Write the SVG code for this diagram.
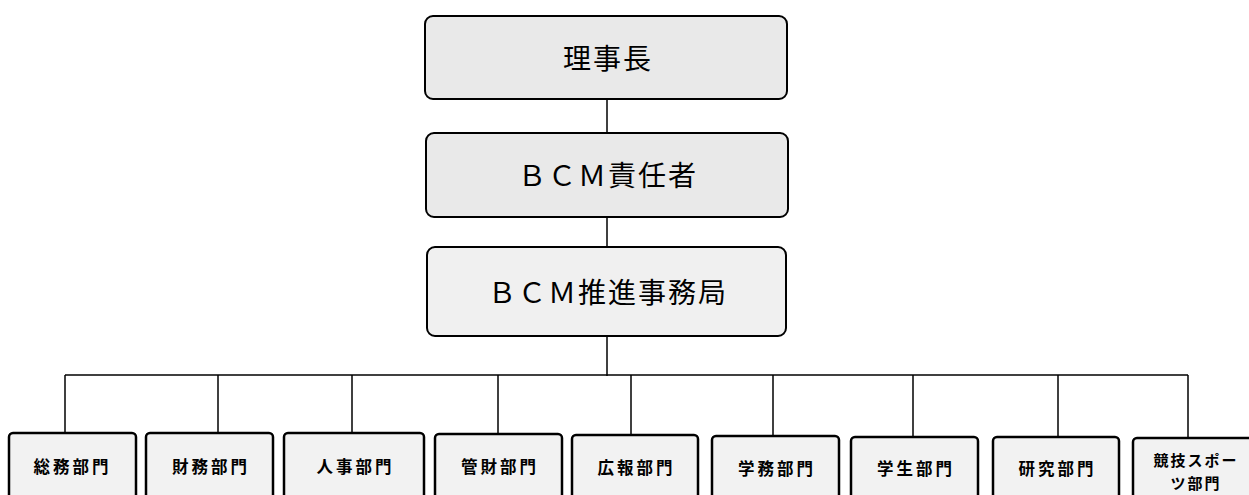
<svg xmlns="http://www.w3.org/2000/svg" width="1249" height="495" viewBox="0 0 1249 495">
<style>
.top{fill:#e9e9e9;stroke:#000;stroke-width:2}
.mid{fill:#f0f0f0;stroke:#000;stroke-width:2}
.dept{fill:#f2f2f2;stroke:#000;stroke-width:2.5}
.big{font-family:"Noto Sans CJK JP","Noto Sans CJK SC",sans-serif;font-size:28px;fill:#000;text-anchor:middle;letter-spacing:2px}
.small{font-family:"Noto Sans CJK JP","Noto Sans CJK SC",sans-serif;font-size:16.5px;font-weight:bold;fill:#000;text-anchor:middle;letter-spacing:3px}
.small2{font-family:"Noto Sans CJK JP","Noto Sans CJK SC",sans-serif;font-size:15px;font-weight:bold;fill:#000;text-anchor:middle;letter-spacing:2px}
.ln{stroke:#000;stroke-width:1.5;fill:none}
</style>
<rect width="1249" height="495" fill="#fff"/>
<g id="connectors">
<line class="ln" x1="607" y1="99" x2="607" y2="133"/>
<line class="ln" x1="607" y1="217" x2="607" y2="247"/>
<line class="ln" x1="607" y1="336" x2="607" y2="376" stroke-width="2"/>
<line class="ln" x1="65" y1="375" x2="1188" y2="375"/>
<line class="ln" x1="65" y1="375" x2="65" y2="433"/>
<line class="ln" x1="218" y1="375" x2="218" y2="433"/>
<line class="ln" x1="352" y1="375" x2="352" y2="433"/>
<line class="ln" x1="498" y1="375" x2="498" y2="434"/>
<line class="ln" x1="631" y1="375" x2="631" y2="435"/>
<line class="ln" x1="773" y1="375" x2="773" y2="436"/>
<line class="ln" x1="913" y1="375" x2="913" y2="437"/>
<line class="ln" x1="1058" y1="375" x2="1058" y2="437"/>
<line class="ln" x1="1188" y1="375" x2="1188" y2="438"/>
</g>
<g id="n-rijicho">
<rect class="top" x="425" y="16" width="362" height="83" rx="8"/>
<text class="big" x="608" y="69">理事長</text>
</g>
<g id="n-bcm-sekinin">
<rect class="top" x="426" y="133" width="362" height="84" rx="8"/>
<text class="big" x="608" y="186">ＢＣＭ責任者</text>
</g>
<g id="n-bcm-jimukyoku">
<rect class="mid" x="427" y="247" width="359" height="89" rx="8"/>
<text class="big" x="608" y="303">ＢＣＭ推進事務局</text>
</g>
<g id="d-somu">
<rect class="dept" x="9" y="433" width="127" height="80" rx="4"/>
<text class="small" x="72.5" y="473">総務部門</text>
</g>
<g id="d-zaimu">
<rect class="dept" x="146" y="433" width="127" height="80" rx="4"/>
<text class="small" x="211" y="473">財務部門</text>
</g>
<g id="d-jinji">
<rect class="dept" x="284" y="433" width="140" height="80" rx="4"/>
<text class="small" x="355.5" y="473">人事部門</text>
</g>
<g id="d-kanzai">
<rect class="dept" x="435" y="434" width="127" height="80" rx="4"/>
<text class="small" x="500" y="473">管財部門</text>
</g>
<g id="d-koho">
<rect class="dept" x="572" y="435" width="126" height="80" rx="4"/>
<text class="small" x="636.5" y="474">広報部門</text>
</g>
<g id="d-gakumu">
<rect class="dept" x="712" y="436" width="127" height="80" rx="4"/>
<text class="small" x="777" y="475">学務部門</text>
</g>
<g id="d-gakusei">
<rect class="dept" x="851" y="437" width="127" height="80" rx="4"/>
<text class="small" x="916" y="475">学生部門</text>
</g>
<g id="d-kenkyu">
<rect class="dept" x="993" y="437" width="126" height="80" rx="4"/>
<text class="small" x="1057.5" y="475">研究部門</text>
</g>
<g id="d-kyogi">
<rect class="dept" x="1133" y="438" width="130" height="80" rx="4"/>
<text class="small2" x="1196" y="466">競技スポー</text>
<text class="small2" x="1196" y="489">ツ部門</text>
</g>
</svg>
